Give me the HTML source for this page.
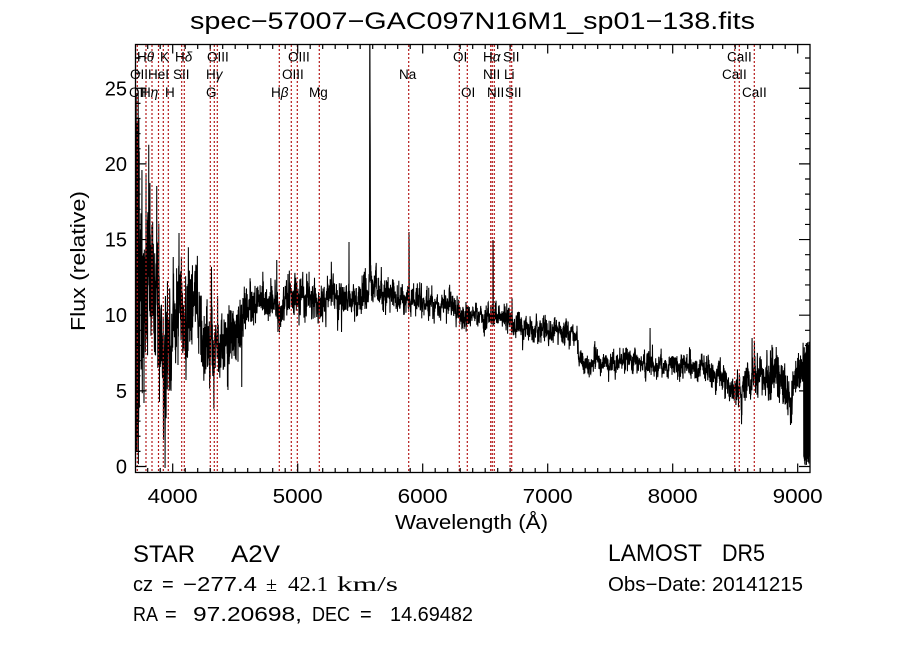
<!DOCTYPE html>
<html><head><meta charset="utf-8">
<style>
html,body{margin:0;padding:0;background:#fff;}
svg{display:block;}
text{font-family:"Liberation Sans",sans-serif;fill:#000;}
.lb{font-size:13.5px;}
.tk{font-size:20px;}
.sf{font-family:"Liberation Serif",serif;}
</style></head><body>
<svg id="s" width="900" height="649" viewBox="0 0 900 649" xmlns="http://www.w3.org/2000/svg">
<rect width="900" height="649" fill="#fff"/>
<defs><clipPath id="c"><rect x="135.5" y="44.5" width="674.5" height="428"/></clipPath></defs>
<path id="spec" clip-path="url(#c)" fill="none" stroke="#000" stroke-width="1.05"/>
<g id="lines" stroke="#b51a1a" stroke-width="1.2" stroke-dasharray="2,2"></g>
<g id="ticks" stroke="#000" stroke-width="1.2"></g>
<rect x="135.5" y="44.5" width="674.5" height="428" fill="none" stroke="#000" stroke-width="1.3"/>

<text x="472.5" y="29" font-size="24" text-anchor="middle" textLength="565" lengthAdjust="spacingAndGlyphs">spec−57007−GAC097N16M1_sp01−138.fits</text>

<g class="lb">
<text x="137" y="61.5">H<tspan font-style="italic">θ</tspan></text>
<text x="160" y="61.5">K</text>
<text x="175" y="61.5">H<tspan font-style="italic">δ</tspan></text>
<text x="207" y="61.5">OIII</text>
<text x="288" y="61.5">OIII</text>
<text x="453" y="61.5">OI</text>
<text x="483" y="61.5">H<tspan font-style="italic">α</tspan></text>
<text x="503" y="61.5">SII</text>
<text x="727" y="61.5">CaII</text>
<text x="130" y="79">OII</text>
<text x="148" y="79">HeI</text>
<text x="173" y="79">SII</text>
<text x="206" y="79">H<tspan font-style="italic">γ</tspan></text>
<text x="282" y="79">OIII</text>
<text x="399" y="79">Na</text>
<text x="483" y="79">NII</text>
<text x="504" y="79">Li</text>
<text x="722" y="79">CaII</text>
<text x="129" y="97">OII</text>
<text x="141" y="97">H<tspan font-style="italic">η</tspan></text>
<text x="165" y="97">H</text>
<text x="206" y="97">G</text>
<text x="271" y="97">H<tspan font-style="italic">β</tspan></text>
<text x="309" y="97">Mg</text>
<text x="461" y="97">OI</text>
<text x="487" y="97">NII</text>
<text x="505" y="97">SII</text>
<text x="742" y="97">CaII</text>
</g>

<g class="tk" text-anchor="middle">
<text x="172.7" y="503" textLength="50" lengthAdjust="spacingAndGlyphs">4000</text>
<text x="297.7" y="503" textLength="50" lengthAdjust="spacingAndGlyphs">5000</text>
<text x="422.7" y="503" textLength="50" lengthAdjust="spacingAndGlyphs">6000</text>
<text x="547.7" y="503" textLength="50" lengthAdjust="spacingAndGlyphs">7000</text>
<text x="672.7" y="503" textLength="50" lengthAdjust="spacingAndGlyphs">8000</text>
<text x="797.7" y="503" textLength="50" lengthAdjust="spacingAndGlyphs">9000</text>
</g>
<g class="tk" text-anchor="end">
<text x="127" y="473.5">0</text>
<text x="127" y="398">5</text>
<text x="127" y="322.2">10</text>
<text x="127" y="246.5">15</text>
<text x="127" y="170.9">20</text>
<text x="127" y="95.3">25</text>
</g>

<text x="471.5" y="529" font-size="20" text-anchor="middle" textLength="153" lengthAdjust="spacingAndGlyphs">Wavelength (Å)</text>
<text transform="translate(85,261) rotate(-90)" font-size="20" text-anchor="middle" textLength="140" lengthAdjust="spacingAndGlyphs">Flux (relative)</text>

<text x="133" y="562" font-size="24" textLength="62" lengthAdjust="spacingAndGlyphs">STAR</text>
<text x="231" y="562" font-size="24" textLength="49" lengthAdjust="spacingAndGlyphs">A2V</text>

<text x="133" y="591" font-size="20" textLength="20" lengthAdjust="spacingAndGlyphs">cz</text>
<text x="162" y="591" font-size="20">=</text>
<text x="183" y="591" font-size="20" textLength="74" lengthAdjust="spacingAndGlyphs">−277.4</text>
<text x="266" y="591" font-size="20" class="sf">±</text>
<text x="288" y="591" font-size="21" class="sf" textLength="40" lengthAdjust="spacingAndGlyphs">42.1</text>
<text x="337" y="591" font-size="21" class="sf" textLength="61" lengthAdjust="spacingAndGlyphs">km/s</text>

<text x="133" y="621" font-size="20" textLength="25" lengthAdjust="spacingAndGlyphs">RA</text>
<text x="165" y="621" font-size="20">=</text>
<text x="193" y="621" font-size="20" textLength="109" lengthAdjust="spacingAndGlyphs">97.20698,</text>
<text x="312" y="621" font-size="20" textLength="38" lengthAdjust="spacingAndGlyphs">DEC</text>
<text x="360" y="621" font-size="20">=</text>
<text x="390" y="621" font-size="20" textLength="83" lengthAdjust="spacingAndGlyphs">14.69482</text>

<text x="608" y="561" font-size="24" textLength="94" lengthAdjust="spacingAndGlyphs">LAMOST</text>
<text x="722" y="561" font-size="24" textLength="43" lengthAdjust="spacingAndGlyphs">DR5</text>
<text x="608" y="591" font-size="20" textLength="195" lengthAdjust="spacingAndGlyphs">Obs−Date: 20141215</text>
</svg>
<script>
(function(){
var NS="http://www.w3.org/2000/svg";
function X(l){return 172.7+(l-4000)*0.125;}
function Y(f){return 466.5-f*15.13;}
var tk=document.getElementById("ticks"),d="";
for(var l=3800;l<=9000;l+=100){var x=X(l),m=(l%1000===0)?9:4.5;
 d+="M"+x+" 472.5V"+(472.5-m)+"M"+x+" 44.5V"+(44.5+m);}
for(var f=0;f<=27;f++){var y=Y(f),m=(f%5===0)?11:5;
 d+="M135.5 "+y+"H"+(135.5+m)+"M810 "+y+"H"+(810-m);}
var p=document.createElementNS(NS,"path");p.setAttribute("d",d);tk.appendChild(p);

var LX=[137.3,146,152,158.5,163.3,168.3,181.7,184.3,210.3,214.3,217.3,279.3,291.3,297.3,319.3,408.7,459.3,467.3,490.7,492.3,494.3,510,511.7,734.7,739.3,754.3];
var ld="";for(var i=0;i<LX.length;i++){ld+="M"+LX[i]+" 45V472";}
var lp=document.createElementNS(NS,"path");lp.setAttribute("d",ld);document.getElementById("lines").appendChild(lp);

var seed=20141215;
function r(){seed=(seed*1664525+1013904223)>>>0;return seed/4294967296;}
function g(){var u=r()||1e-9,v=r();return Math.sqrt(-2*Math.log(u))*Math.cos(6.2831853*v);}
function ip(P,x){if(x<=P[0][0])return P[0][1];for(var i=1;i<P.length;i++){if(x<=P[i][0]){var a=P[i-1],b=P[i];return a[1]+(b[1]-a[1])*(x-a[0])/(b[0]-a[0]);}}return P[P.length-1][1];}
var C=[[136,300],[140,290],[150,290],[160,322],[165,335],[175,320],[185,310],[195,300],[205,345],[215,340],[235,340],[245,302],[260,298],[280,302],[300,297],[320,300],[340,298],[360,292],[369,288],[380,290],[400,297],[420,302],[450,308],[480,315],[500,320],[520,325],[550,332],[577,336],[579,364],[600,362],[650,363],[700,370],[720,377],[735,392],[745,385],[760,372],[780,378],[790,392],[800,365],[806,345],[810,345]];
var S=[[136,62],[145,52],[160,46],[170,33],[200,25],[240,15],[260,11.5],[370,10],[400,8],[575,7],[580,6.5],[700,6.5],[735,9],[760,12.5],[810,14]];
var pts=[],lf=0;
for(var x=136;x<=809.5;x+=0.17){
 lf=0.85*lf+0.53*g();
 var s=ip(S,x),y=ip(C,x)+s*(0.6*lf+0.8*g());
 if(x<139.5){y=(pts.length%2)?(88+r()*120):(400+r()*68);}
 if(x>803.5){y=(pts.length%2)?(340+r()*25):(455+r()*12);}
 pts.push([x,y]);
}
function setp(x,y){var i=Math.round((x-136)/0.17);if(i>=0&&i<pts.length)pts[i][1]=y;}
var SP=[[369.5,200],[369.7,40],[369.9,44],[370.1,115],[370.3,150],[370.5,230],[376,266],[409,232],[409.2,250],[493,240],[493.2,262],[512,298],[578,340],[650,328],[752,338],[791,410],[736,405],
[142,170],[146,173],[144,403],[150,183],[152.7,222],[156.7,186],[159.5,402],[163.3,400],[165,468],[165.2,420],[173.3,257],[179,233],[241.7,387],[276.7,260],[349,242],[196,268],[186,380],[228,390]];
for(var i=0;i<SP.length;i++)setp(SP[i][0],SP[i][1]);
var sd="M"+pts[0][0].toFixed(2)+" "+pts[0][1].toFixed(1);
for(var i=1;i<pts.length;i++)sd+="L"+pts[i][0].toFixed(2)+" "+pts[i][1].toFixed(1);
document.getElementById("spec").setAttribute("d",sd);
})();
</script>
</body></html>
